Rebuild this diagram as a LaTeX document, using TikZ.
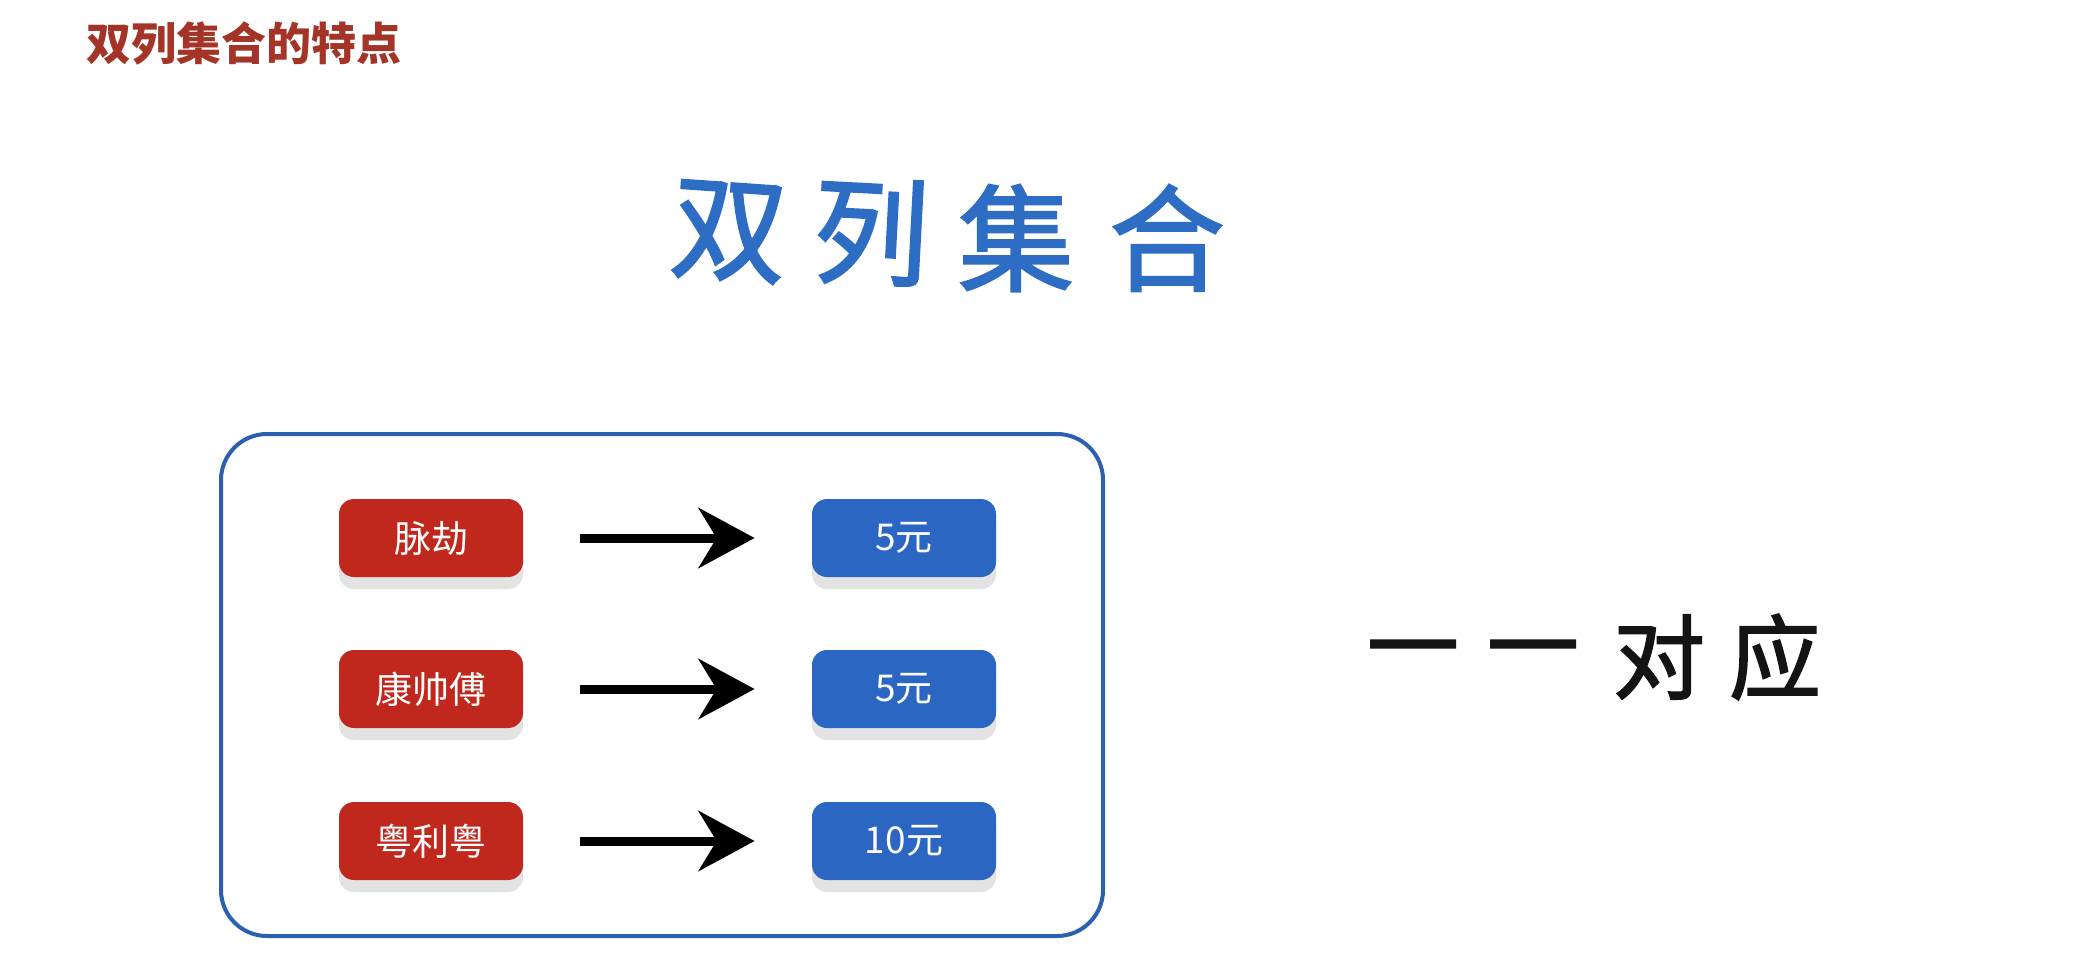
\documentclass[tikz,border=0pt]{standalone}
\usepackage{fontspec}
\newfontfamily\cjk{Noto Sans CJK SC}
\newfontfamily\cjkm[FakeBold=1.8]{Noto Sans CJK SC}
\usetikzlibrary{arrows.meta,shadows}
\definecolor{titlered}{HTML}{A43428}
\definecolor{bigblue}{HTML}{2D6DC4}
\definecolor{frameblue}{HTML}{2B5FAF}
\definecolor{boxred}{HTML}{C0281E}
\definecolor{boxblue}{HTML}{2B67C2}
\definecolor{shadowgray}{HTML}{E3E3E3}
\begin{document}
\begin{tikzpicture}[x=0.5pt,y=-0.5pt,
  basebox/.style={rounded corners=7.5pt, minimum width=92pt, minimum height=39pt,
    text=white, inner sep=0pt, font=\cjk\fontsize{18.5}{18.5}\selectfont,
    drop shadow={shadow xshift=0pt, shadow yshift=-6pt, fill=shadowgray, opacity=1}},
  keybox/.style={basebox, fill=boxred},
  valbox/.style={basebox, fill=boxblue},
  maparrow/.style={line width=4.5pt, -{Stealth[length=28pt,width=30pt,inset=9pt]},
    shorten <=28.5pt, shorten >=28.5pt},
  bigchar/.style={inner sep=0pt, text=bigblue, font=\cjkm\fontsize{58}{58}\selectfont},
  sidechar/.style={inner sep=0pt, text=black!92, font=\cjkm\fontsize{46}{46}\selectfont}
]
\useasboundingbox[fill=white] (0,0) rectangle (2076,954);

% heading
\node[anchor=west, inner sep=0pt, text=titlered, font=\cjk\bfseries\fontsize{22.5}{22.5}\selectfont]
  (heading) at (86,43) {双列集合的特点};

% big title
\node[bigchar, rotate=-4] (c1) at (729,232) {双};
\node[bigchar, rotate=-3] (c2) at (871,232) {列};
\node[bigchar] (c3) at (1016,238) {集};
\node[bigchar] (c4) at (1167,238) {合};

% frame
\node[draw=frameblue, line width=2pt, rounded corners=23pt,
  minimum width=441pt, minimum height=251pt] (frame) at (662,685) {};

% rows
\node[keybox] (k1) at (431,538) {脉劫};
\node[valbox] (v1) at (904,538) {5元};
\node[keybox] (k2) at (431,689) {康帅傅};
\node[valbox] (v2) at (904,689) {5元};
\node[keybox] (k3) at (431,841) {粤利粤};
\node[valbox] (v3) at (904,841) {10元};

\draw[maparrow] (k1) -- (v1);
\draw[maparrow] (k2) -- (v2);
\draw[maparrow] (k3) -- (v3);

% one-to-one
\node[sidechar] (s1) at (1413,660) {一};
\node[sidechar] (s2) at (1533,660) {一};
\node[sidechar] (s3) at (1659,657) {对};
\node[sidechar] (s4) at (1775,657) {应};
\end{tikzpicture}
\end{document}
